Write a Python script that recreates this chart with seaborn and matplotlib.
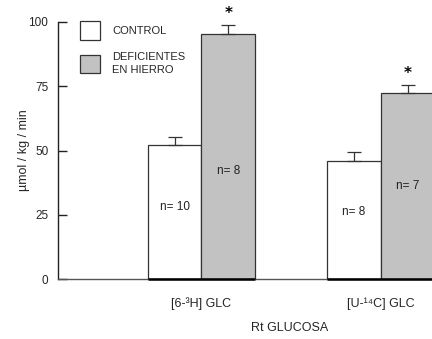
import matplotlib
matplotlib.use("Agg")
import matplotlib.pyplot as plt
import seaborn as sns
import pandas as pd
from matplotlib.patches import Patch

# Glucose appearance rate (Rt) by tracer and group
trazadores = ["[6-³H] GLC", "[U-¹⁴C] GLC"]
grupos = ["CONTROL", "DEFICIENTES\nEN HIERRO"]
control = [52.0, 46.0]
deficientes = [95.5, 72.5]
control_ee = [3.2, 3.3]
deficientes_ee = [3.5, 2.8]
n_control = ["n= 10", "n= 8"]
n_deficientes = ["n= 8", "n= 7"]
n_y_control = [28, 26]
n_y_deficientes = [42, 36]
yticks = [0, 25, 50, 75, 100]

sns.set_style("white")
FAM = ["Liberation Sans Narrow", "Liberation Sans", "DejaVu Sans"]
plt.rcParams["font.family"] = FAM

df = pd.DataFrame({
    "trazador": trazadores * 2,
    "grupo": [grupos[0]] * 2 + [grupos[1]] * 2,
    "valor": control + deficientes,
})

fig = plt.figure(figsize=(4.32, 3.39), dpi=100)
ax = fig.add_axes([58 / 432, 60 / 339, 466 / 432, 257 / 339])

gris = "#c2c2c2"
sns.barplot(data=df, x="trazador", y="valor", hue="grupo",
            hue_order=grupos, order=trazadores,
            palette={grupos[0]: "white", grupos[1]: gris},
            width=0.6, errorbar=None, edgecolor="#333333", linewidth=0.9,
            legend=False, ax=ax)

ax.set_xlim(-0.8, 1.8)
ax.set_ylim(0, 100)

bars = [p for p in ax.patches]
# seaborn draws hue levels in order: control bars first, then deficient
ctrl_bars = bars[:2]
def_bars = bars[2:4]

for b, e, lab, ny in zip(ctrl_bars, control_ee, n_control, n_y_control):
    cx = b.get_x() + b.get_width() / 2
    h = b.get_height()
    ax.errorbar(cx, h, yerr=[[0], [e]], fmt="none", ecolor="#333333",
                elinewidth=0.9, capsize=5, capthick=0.9)
    ax.text(cx, ny, lab, ha="center", va="center", fontsize=8.5, color="#222222")

for b, e, lab, ny in zip(def_bars, deficientes_ee, n_deficientes, n_y_deficientes):
    cx = b.get_x() + b.get_width() / 2
    h = b.get_height()
    ax.errorbar(cx, h, yerr=[[0], [e]], fmt="none", ecolor="#333333",
                elinewidth=0.9, capsize=5, capthick=0.9)
    ax.text(cx, ny, lab, ha="center", va="center", fontsize=8.5, color="#222222")
    ax.text(cx, h + e + 4.5, "*", ha="center", va="center", fontsize=11,
            fontweight="bold", color="black", family=["DejaVu Sans"])

# heavier baseline beneath each pair of bars
for i in range(2):
    left = ctrl_bars[i].get_x()
    right = def_bars[i].get_x() + def_bars[i].get_width()
    ax.hlines(0, left, right, colors="black", linewidth=1.8, zorder=5,
              clip_on=False)

for s in ["top", "right"]:
    ax.spines[s].set_visible(False)
ax.spines["left"].set_color("#222222")
ax.spines["left"].set_linewidth(1.0)
ax.spines["bottom"].set_color("#555555")
ax.spines["bottom"].set_linewidth(1.0)

ax.set_yticks(yticks)
ax.set_yticklabels([str(v) for v in yticks])
ax.tick_params(axis="y", direction="in", length=6.5, width=1, color="#222222",
               labelsize=8.5, pad=7, left=True)
ax.tick_params(axis="x", length=0, labelsize=9, pad=13)

ax.set_xlabel("Rt GLUCOSA", fontsize=9)
ax.xaxis.set_label_coords((290 - 58) / 466, -0.19)
ax.xaxis.label.set_va("center")
ax.set_ylabel("µmol / kg / min", fontsize=9)
ax.yaxis.set_label_coords(-0.072, 0.5)
ax.yaxis.label.set_va("center")

handles = [Patch(facecolor="white", edgecolor="#333333", linewidth=0.9),
           Patch(facecolor=gris, edgecolor="#333333", linewidth=0.9)]
leg = ax.legend(handles, grupos, loc="upper left",
                bbox_to_anchor=(18 / 466, 1.02), frameon=False, fontsize=8,
                handlelength=1.8, handleheight=2.15, handletextpad=1.05,
                labelspacing=1.1, borderaxespad=0)
for t in leg.get_texts():
    t.set_linespacing(1.45)

fig.savefig("out.png", dpi=100)
